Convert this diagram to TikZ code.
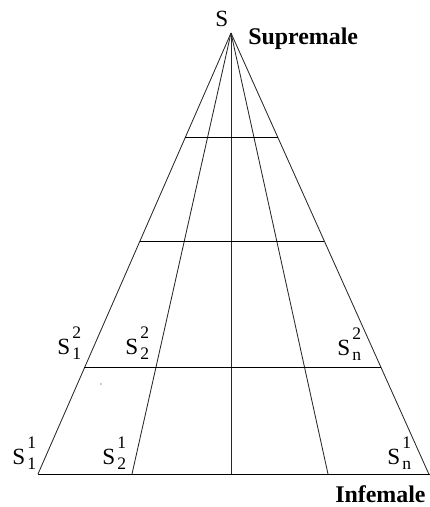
\documentclass[tikz,border=0pt]{standalone}
\usepackage{fontspec}
\setmainfont{Liberation Serif}
\usepackage{tikz}
\usetikzlibrary{calc, positioning}
\definecolor{LineGray}{RGB}{40, 40, 40}
\tikzset{
  ray/.style={draw=LineGray, line width=0.6pt},
  rung/.style={draw=black, line width=0.7pt},
  slabel/.style={anchor=base west, inner sep=0pt,
    font=\fontsize{16.5}{18}\selectfont},
  tag/.style={anchor=base west, inner sep=0pt,
    font=\fontsize{17}{19}\selectfont\bfseries},
}
\newcommand{\slab}[2]{S\kern1.5pt\rlap{\raisebox{12pt}{\fontsize{12.5}{13}\selectfont#1}}%
  \raisebox{-3.5pt}{\fontsize{12.5}{13}\selectfont#2}}

\begin{document}
\begin{tikzpicture}
  \useasboundingbox (0,0) rectangle (10.75,12.675);
  % apex and foot points
  \coordinate (top) at (5.775,11.85);
  \coordinate (b0) at (0.95,0.825);
  \coordinate (b1) at (3.3,0.825);
  \coordinate (b2) at (5.775,0.825);
  \coordinate (b3) at (8.2,0.825);
  \coordinate (b4) at (10.72,0.825);
  \foreach \i in {0,...,4}
    \draw[ray] (top) -- (b\i);
  \draw[rung] (b0) -- (10.75,0.825);
  % horizontal levels
  \foreach \t/\n in {0.238/a, 0.4717/b, 0.7596/c} {
    \coordinate (l\n) at ($(top)!\t!(b0)$);
    \coordinate (r\n) at ($(top)!\t!(b4)$);
    \draw[rung] (l\n) -- (r\n);
  }
  \fill[LineGray] (2.525,3.075) circle (0.5pt);
  % labels
  \node[slabel] (s) at (5.375,12.0) {S};
  \node[tag] (sup) at (6.2,11.55) {Supremale};
  \node[tag] (inf) at (8.375,0.1) {Infemale};
  \node[slabel] (s12) at (1.425,3.8) {\slab{2}{1}};
  \node[slabel] (s22) at (3.125,3.8) {\slab{2}{2}};
  \node[slabel] (sn2) at (8.425,3.775) {\slab{2}{n}};
  \node[slabel] (s11) at (0.3,1.05) {\slab{1}{1}};
  \node[slabel] (s21) at (2.55,1.05) {\slab{1}{2}};
  \node[slabel] (sn1) at (9.675,1.05) {\slab{1}{n}};
\end{tikzpicture}
\end{document}
